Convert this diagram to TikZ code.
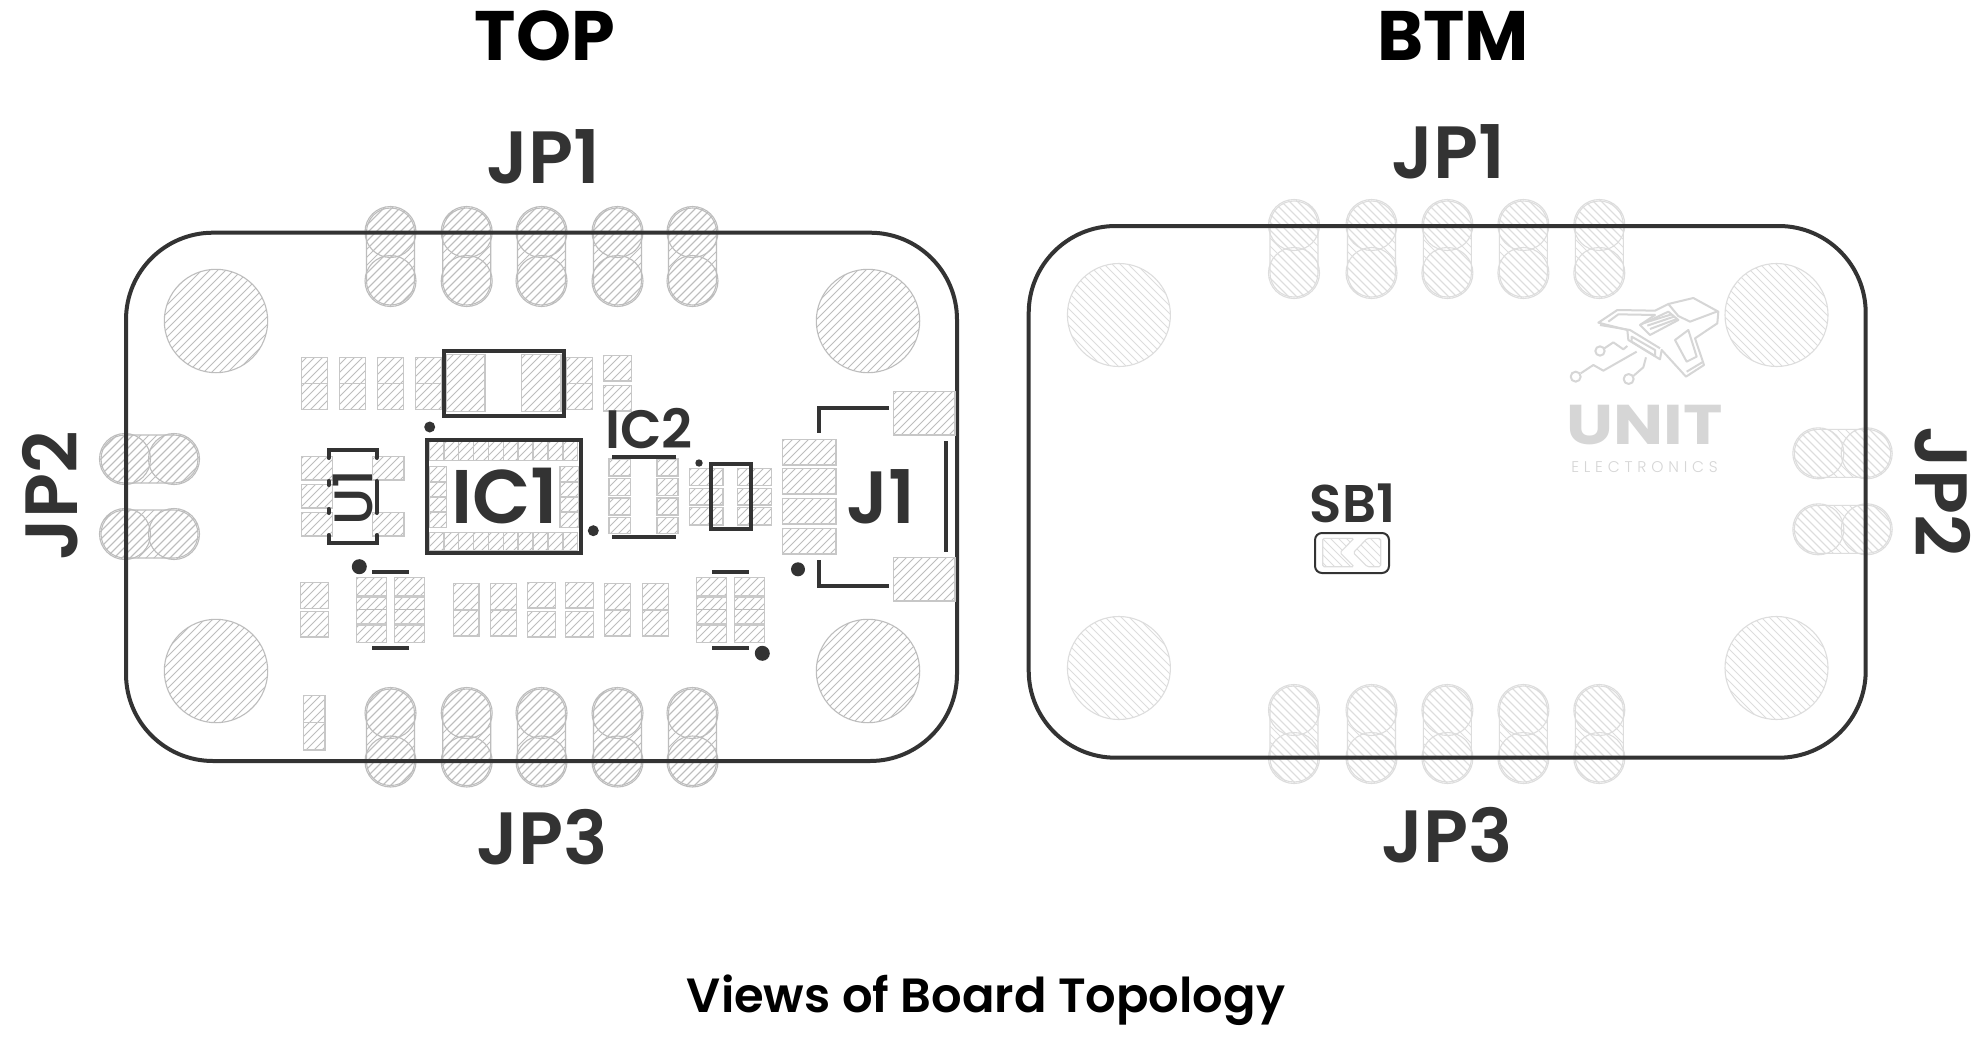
\documentclass[tikz,border=0pt]{standalone}
\usepackage{fontspec}
\setmainfont{Poppins}[UprightFont=* SemiBold,BoldFont=* Bold]
\newfontfamily\popmed{Poppins}[UprightFont=* Medium]
\newfontfamily\poplight{Poppins}[UprightFont=* Light,LetterSpace=31]
\definecolor{ink}{HTML}{333333}
\definecolor{hatchA}{HTML}{BDBDBD}
\definecolor{hatchB}{HTML}{DDDDDD}
\definecolor{logo}{HTML}{D6D6D6}
% diagonal hatch drawn as real lines, clipped to the current path
\newcommand\hatchup[2]{%
  \path (path picture bounding box.south west); \pgfgetlastxy{\xa}{\ya}
  \path (path picture bounding box.north east); \pgfgetlastxy{\xb}{\yb}
  \pgfmathsetmacro\xA{\xa}\pgfmathsetmacro\xB{\xb}\pgfmathsetmacro\yA{\ya}\pgfmathsetmacro\yB{\yb}
  \pgfmathtruncatemacro\cmin{floor((\xA-\yB)/8)}
  \pgfmathtruncatemacro\cmax{ceil((\xB-\yA)/8)}
  \foreach \k in {\cmin,...,\cmax}{%
    \pgfmathsetmacro\ya{\xA-\k*8}\pgfmathsetmacro\yb{\xB-\k*8}
    \draw[draw=#1,line width=#2] (\xA pt,\ya pt) -- (\xB pt,\yb pt);}}
\newcommand\hatchdown[2]{%
  \path (path picture bounding box.south west); \pgfgetlastxy{\xa}{\ya}
  \path (path picture bounding box.north east); \pgfgetlastxy{\xb}{\yb}
  \pgfmathsetmacro\xA{\xa}\pgfmathsetmacro\xB{\xb}\pgfmathsetmacro\yA{\ya}\pgfmathsetmacro\yB{\yb}
  \pgfmathtruncatemacro\cmin{floor((\xA+\yA)/8)}
  \pgfmathtruncatemacro\cmax{ceil((\xB+\yB)/8)}
  \foreach \k in {\cmin,...,\cmax}{%
    \pgfmathsetmacro\ya{\k*8-\xA}\pgfmathsetmacro\yb{\k*8-\xB}
    \draw[draw=#1,line width=#2] (\xA pt,\ya pt) -- (\xB pt,\yb pt);}}
\tikzset{
  padst/.style={draw=hatchA!85!white,line width=1.5pt,path picture={\hatchup{hatchA}{.8pt}}},
  pinA/.style={draw=hatchA,line width=1.1pt,path picture={\hatchup{hatchA}{.85pt}}},
  pinB/.style={draw=hatchB,line width=1.1pt,path picture={\hatchdown{hatchB}{.85pt}}},
  inkline/.style={draw=ink,line width=4pt},
  bar/.style={draw=ink,line width=4pt},
  gsep/.style={draw=hatchA!80!white,line width=3pt},
  lbl/.style={text=ink,inner sep=0pt,outer sep=0pt,anchor=center},
  logoline/.style={draw=logo,line width=2pt,line join=round},
}
\newcommand\pad[4]{\draw[padst] (#1,#2) rectangle (#3,#4);}
\newcommand\twopad[6]{\pad{#1}{#2}{#3}{#4}\pad{#1}{#5}{#3}{#6}}
% vertical pin: style, x, y1, y2
\newcommand\vpin[4]{%
  \draw[#1] (#2-24,#3) arc[start angle=180,end angle=360,radius=24] -- (#2+24,#4) arc[start angle=0,end angle=180,radius=24] -- cycle;
  \draw[#1] (#2,#3) circle[radius=25.5];
  \draw[#1] (#2,#4) circle[radius=25.5];}
\newcommand\hpin[4]{%
  \draw[#1] (#3,#2-24) -- (#4,#2-24) arc[start angle=-90,end angle=90,radius=24] -- (#3,#2+24) arc[start angle=90,end angle=270,radius=24] -- cycle;
  \draw[#1] (#3,#2) circle[radius=25.5];
  \draw[#1] (#4,#2) circle[radius=25.5];}
\newcommand\board[4]{%
  \draw[inkline] (#1,#2+87) arc[start angle=180,end angle=270,radius=87] -- (#3-87,#2)
    arc[start angle=270,end angle=360,radius=87] -- (#3,#4-87)
    arc[start angle=0,end angle=90,radius=87] -- (#1+87,#4)
    arc[start angle=90,end angle=180,radius=87] -- cycle;}
\begin{document}
\begin{tikzpicture}[x=1pt,y=-1pt]
\useasboundingbox (0,0) rectangle (1980,1041);
\fill[white] (0,0) rectangle (1980,1041);

% ---------- TOP view ----------
\foreach \x in {390.5,466.7,541.5,617.5,692.5} {\vpin{pinA}{\x}{232}{281}}
\foreach \x in {390.5,466.7,541.5,617.5,692.5} {\vpin{pinA}{\x}{713}{761.5}}
\hpin{pinA}{459}{125}{174}
\hpin{pinA}{534}{125}{174}
\foreach \x/\y in {216/321,868/321,216/671,868/671} {\draw[pinA] (\x,\y) circle[radius=51.7];}
\board{126}{232.7}{957}{761}

% upper row
\foreach \x in {301.7,339.7,377.7,415.7,566.7} {\twopad{\x}{357.7}{\x+25.6}{383.3}{383.3}{409.3}}
\twopad{603.3}{355.7}{631.3}{381}{385.7}{411}
\pad{446}{354.3}{485}{411.7}
\pad{521.7}{354.3}{561}{411.7}
\draw[inkline] (444,351) rectangle (564,416);
\fill[ink] (429.7,427) circle[radius=5.5];

% IC1
\foreach \i in {0,...,9} {
  \pad{429+14.87*\i}{441.7}{429+14.87*\i+14.87}{460.7}
  \pad{429+14.87*\i}{532.7}{429+14.87*\i+14.87}{551}}
\foreach \i in {0,...,3} {
  \pad{429}{466.7+15.15*\i}{446.7}{466.7+15.15*\i+15.15}
  \pad{560}{466.7+15.15*\i}{579}{466.7+15.15*\i+15.15}}
\draw[inkline] (427,440) rectangle (581,553);
\fill[ink] (593.3,530.7) circle[radius=5.5];

% U1
\foreach \y in {456.7,484.7,512.7} {\pad{301.7}{\y}{332.7}{\y+23.3}}
\foreach \y in {456.7,512.7} {\pad{372.7}{\y}{404}{\y+23.3}}
\draw[inkline,line cap=round] (328.5,458) -- (328.5,450) -- (376.5,450) -- (376.5,458);
\draw[inkline,line cap=round] (328.5,535) -- (328.5,543) -- (376.5,543) -- (376.5,535);
\draw[inkline,line cap=round] (328.5,481) -- (328.5,485);
\draw[inkline,line cap=round] (328.5,509) -- (328.5,513);
\draw[inkline,line cap=round] (376.5,481) -- (376.5,513);

% IC2
\foreach \a/\b in {459/476,478.7/495.7,498/515,517.3/533.7} {
  \pad{609}{\a}{630.3}{\b}
  \pad{657}{\a}{678}{\b}}
\draw[bar] (612,456.7) -- (676,456.7);
\draw[bar] (612,536.7) -- (676,536.7);

% small six pad
\foreach \a/\b in {468.7/485.7,488.3/505,507.7/525} {
  \pad{689.7}{\a}{723}{\b}
  \pad{737.7}{\a}{771.3}{\b}}
\draw[inkline] (711,464) rectangle (751,529);
\fill[ink] (699,463) circle[radius=3.7];

% lower-left group
\fill[ink] (359.3,566.7) circle[radius=7.5];
\draw[bar] (372,572) -- (409,572);
\draw[bar] (372,647.7) -- (409,647.7);
\twopad{300.7}{582.7}{328.3}{608.3}{611.7}{637}
\foreach \x in {356.7,394.7} {
  \pad{\x}{577.3}{\x+29.6}{642.3}
  \draw[gsep] (\x,596) -- (\x+29.6,596);
  \draw[gsep] (\x,624) -- (\x+29.6,624);
  \draw[draw=hatchA,line width=1.2pt] (\x,609.5) -- (\x+29.6,609.5);}
% lower row
\foreach \x in {453.3,490.7,604.7,642.7} {\twopad{\x}{583.7}{\x+25.8}{609.3}{610.7}{636}}
\foreach \x in {527.7,565.7} {\twopad{\x}{582.7}{\x+27.6}{608}{611.7}{637}}
% lower-right group
\foreach \x in {696.7,734.7} {
  \pad{\x}{577.7}{\x+29.6}{642.3}
  \draw[gsep] (\x,596) -- (\x+29.6,596);
  \draw[gsep] (\x,624) -- (\x+29.6,624);
  \draw[draw=hatchA,line width=1.2pt] (\x,609.7) -- (\x+29.6,609.7);}
\draw[bar] (712,572) -- (749,572);
\draw[bar] (712,647.7) -- (749,647.7);
\fill[ink] (762.3,653.3) circle[radius=7.5];
% far lower-left
\twopad{303.7}{695.7}{325}{722.3}{722.3}{750}

% J1
\foreach \a/\b in {439.7/465,468.7/494,498.7/524,528.7/554} {\pad{782.7}{\a}{836}{\b}}
\pad{893.7}{391.7}{955}{435}
\pad{893.7}{557.7}{955}{601}
\draw[inkline] (819,432.7) -- (819,408) -- (889,408);
\draw[inkline] (819,560) -- (819,586) -- (889,586);
\draw[bar] (945.7,441) -- (945.7,552);
\fill[ink] (798,569.3) circle[radius=7];

% ---------- BTM view ----------
\foreach \x in {1294,1371.5,1447.4,1523.4,1599.3} {\vpin{pinB}{\x}{225}{273}}
\foreach \x in {1294,1371.5,1447.4,1523.4,1599.3} {\vpin{pinB}{\x}{710}{758}}
\hpin{pinB}{453.3}{1818.3}{1866.7}
\hpin{pinB}{529.3}{1818.3}{1866.7}
\foreach \x/\y in {1118.9/315,1776.5/315,1118.9/668,1776.5/668} {\draw[pinB] (\x,\y) circle[radius=51.5];}
\board{1028.7}{226}{1865.7}{757.7}

% SB1
\draw[draw=ink,line width=2pt,rounded corners=7pt] (1315,533) rectangle (1389,573);
\draw[pinB,rounded corners=1.5pt] (1322.7,538.3) -- (1354,538.3) -- (1340,552.7) -- (1354,566.7) -- (1322.7,566.7) -- cycle;
\draw[pinB,rounded corners=1.5pt] (1367.3,538.3) -- (1380.7,538.3) -- (1380.7,566.7) -- (1367.3,566.7) -- (1353.3,552.7) -- cycle;

% logo
\begin{scope}[shift={(1540,280)},x=0.3333pt,y=-0.3333pt]
  \draw[logoline] (175,128) -- (232,90) -- (345,92) -- (385,72) -- (460,54) -- (535,95) -- (532,130) -- (465,175) -- (492,255) -- (438,290) -- (365,210) -- (360,238) -- (265,180) -- (262,150) -- cycle;
  \draw[logoline] (180,135) -- (270,150) -- (360,205);
  \draw[logoline] (205,125) -- (235,103) -- (345,105) -- (300,135);
  \draw[logoline] (300,135) -- (385,95) -- (415,120) -- (330,165) -- cycle;
  \draw[logoline] (315,128) -- (395,103) (322,137) -- (402,110) (330,147) -- (408,118);
  \draw[logoline] (385,72) -- (415,108) -- (450,125) -- (530,95);
  \draw[logoline] (405,180) -- (440,245) -- (470,230) -- (445,150) -- cycle;
  \draw[logoline] (440,275) -- (490,245);
  \draw[logoline] (275,170) -- (345,210) -- (345,228) -- (275,185) -- cycle;
  \draw[logoline] (180,213) circle[radius=14];
  \draw[logoline] (193,205) -- (220,187) -- (250,208) -- (262,198);
  \draw[logoline] (107,290) circle[radius=15];
  \draw[logoline] (122,280) -- (160,255) -- (190,272) -- (290,215);
  \draw[logoline] (266,297) circle[radius=15];
  \draw[logoline] (280,288) -- (310,262) -- (318,232);
\end{scope}
\node[lbl,text=logo,xscale=1.19] (unit) at (1644.5,425.5) {\fontsize{56}{60}\selectfont\bfseries UNIT};
\node[lbl,text=logo] (elec) at (1644.5,467.2) {\fontsize{15.5}{18}\poplight ELECTRONICS};

% ---------- labels ----------
\node[lbl,text=black] (top) at (545,36) {\fontsize{70}{80}\selectfont\bfseries TOP};
\node[lbl,text=black] (btm) at (1453,36) {\fontsize{70}{80}\selectfont\bfseries BTM};
\node[lbl] (jp1a) at (543,157) {\fontsize{74}{90}\selectfont JP1};
\node[lbl] (jp3a) at (542,837) {\fontsize{74}{90}\selectfont JP3};
\node[lbl,rotate=90] (jp2a) at (50,495.5) {\fontsize{74}{90}\selectfont JP2};
\node[lbl] (ic1) at (505,496.5) {\fontsize{76}{90}\selectfont IC1};
\node[lbl] (ic2) at (649,429) {\fontsize{54}{60}\selectfont IC2};
\node[lbl,rotate=90] (u1) at (353,497.5) {\fontsize{54}{60}\popmed U1};
\node[lbl] (j1) at (881,497) {\fontsize{74}{90}\selectfont J1};
\node[lbl] (jp1b) at (1448,152) {\fontsize{74}{90}\selectfont JP1};
\node[lbl] (jp3b) at (1447,835) {\fontsize{74}{90}\selectfont JP3};
\node[lbl,rotate=-90] (jp2b) at (1943,491.7) {\fontsize{74}{90}\selectfont JP2};
\node[lbl] (sb1) at (1352.5,503) {\fontsize{53}{60}\selectfont SB1};
\node[lbl,text=black] (cap) at (986,1000) {\fontsize{48}{58}\selectfont Views of Board Topology};
\end{tikzpicture}
\end{document}
